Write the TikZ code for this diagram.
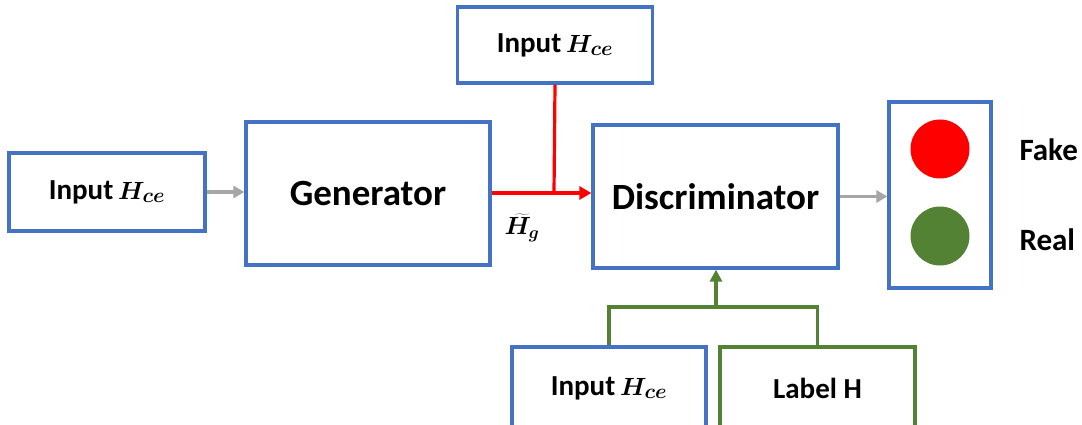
\documentclass[tikz,border=0pt]{standalone}
\usepackage{fontspec}
\setmainfont{Carlito}
\usetikzlibrary{arrows.meta}
\definecolor{bblue}{HTML}{4472C4}
\definecolor{bgreen}{HTML}{548235}
\definecolor{bred}{HTML}{FF0000}
\definecolor{bgray}{HTML}{A6A6A6}
\begin{document}
\begin{tikzpicture}[x=1pt,y=-1pt,
  box/.style={draw=bblue,line width=3.2pt,fill=white,inner sep=0pt,font=\bfseries\fontsize{29}{34}\selectfont},
  gbox/.style={box,draw=bgreen},
  big/.style={font=\bfseries\fontsize{37}{44}\selectfont},
  grayarrow/.style={draw=bgray,line width=3.2pt,-{Triangle[length=11pt,width=12pt]}},
  redline/.style={draw=bred,line width=3.2pt},
  greenline/.style={draw=bgreen,line width=3.2pt},
  hgl/.style={font=\fontsize{27}{32}\selectfont,inner sep=1pt},
  lbl/.style={font=\bfseries\fontsize{31}{36}\selectfont,anchor=west}]
\useasboundingbox (0,0) rectangle (1082,425);
\clip (0,0) rectangle (1082,425);
\newcommand{\inp}{Input\,{\boldmath$H_{ce}$}}
\node[box,minimum width=196pt,minimum height=78pt] (inL) at (107,192) {\inp};
\node[box,big,minimum width=244pt,minimum height=143pt] (gen) at (368,193.5) {Generator};
\node[box,minimum width=195pt,minimum height=76pt] (inT) at (555,45) {\inp};
\node[box,big,minimum width=245pt,minimum height=143pt] (disc) at (715.5,196.5) {Discriminator};
\node[box,minimum width=102pt,minimum height=186pt] (light) at (940,195) {};
\node[circle,fill=bred,minimum size=59pt,inner sep=0pt] (red) at (940,149) {};
\node[circle,fill=bgreen,minimum size=59pt,inner sep=0pt] (green) at (940,236) {};
\node[lbl] (fake) at (1016,150) {Fake};
\node[lbl] (real) at (1016,240) {Real};
\node[box,minimum width=194pt,minimum height=82pt] (inB) at (609,388) {\inp};
\node[gbox,minimum width=195pt,minimum height=82pt] (lab) at (817.5,388) {Label H};
\coordinate (gj) at (716,307);
\coordinate (rj) at (554,193);
\node[hgl] (hg) at (522,228) {{\boldmath$\widetilde{H_g}$}};
% arrows
\draw[grayarrow] (inL.east) -- (gen.west |- inL.east);
\draw[grayarrow] (disc.east) -- (light.west |- disc.east);
\draw[redline] (inT.south) -- (rj);
\draw[redline,-{Triangle[length=12pt,width=13pt]}] (gen.east |- rj) -- (disc.west |- rj);
\draw[greenline] (inB.north) -- (inB.north |- gj) -- (lab.north |- gj) -- (lab.north);
\draw[greenline,-{Triangle[length=12pt,width=12pt]}] (gj) -- (gj |- disc.south);
\end{tikzpicture}
\end{document}
